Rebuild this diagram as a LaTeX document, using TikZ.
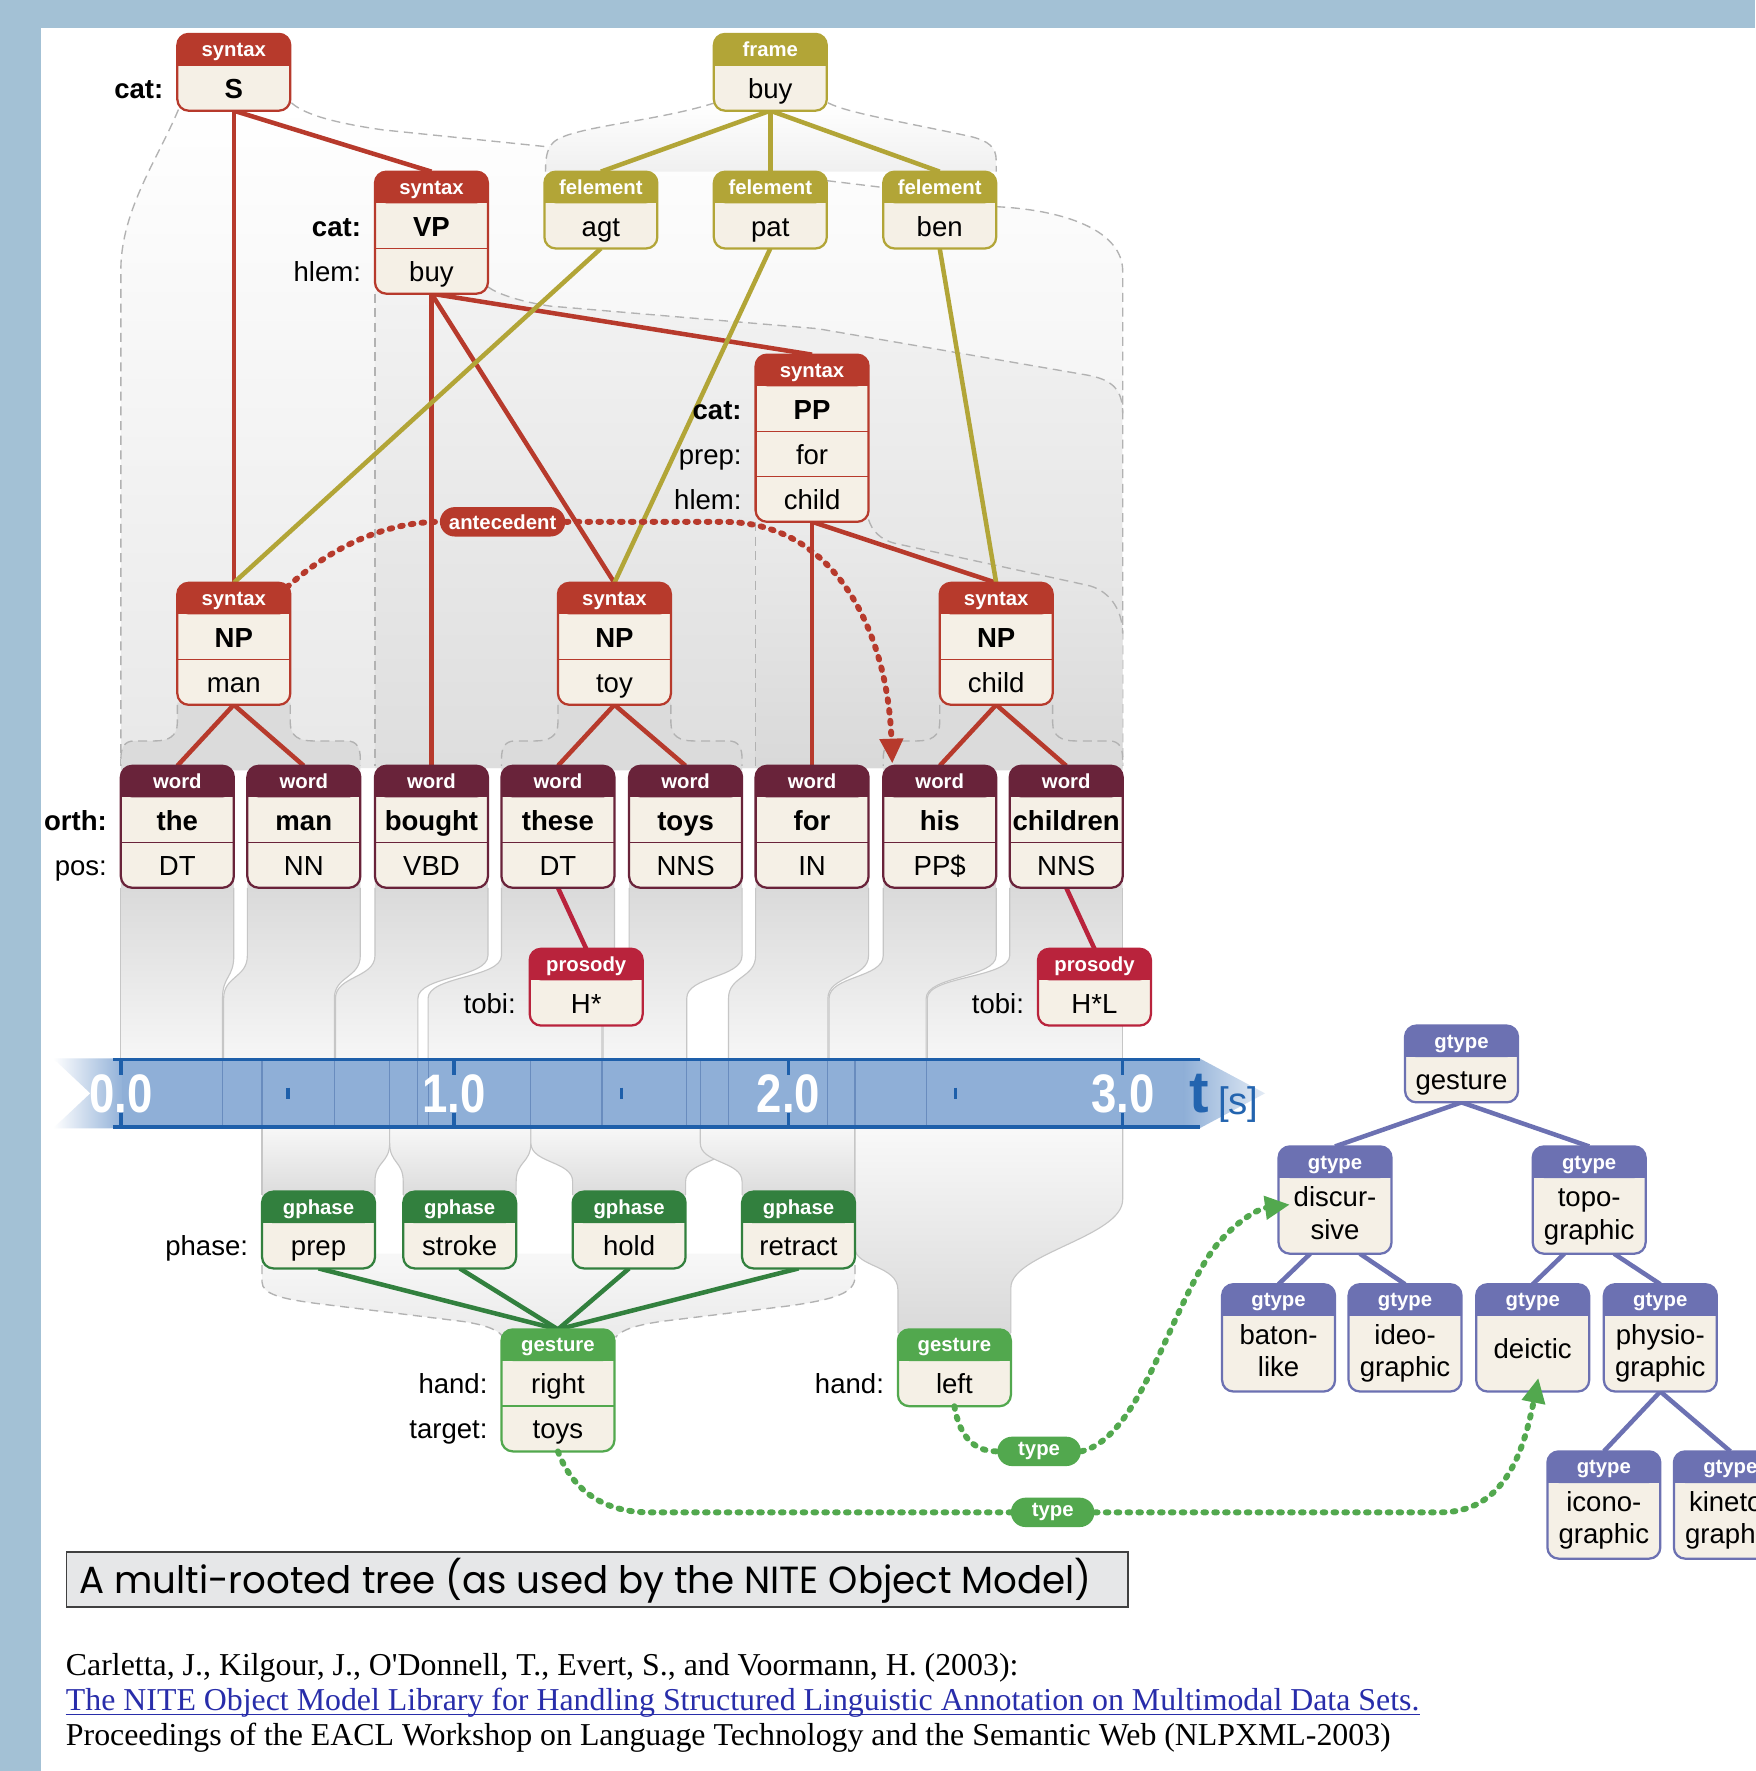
\documentclass[tikz,border=0pt]{standalone}
\usepackage{fontspec}
\setmainfont{Liberation Sans}
\newfontfamily\citefont{Liberation Serif}
\newfontfamily\titlefont{Poppins}
\usetikzlibrary{calc,arrows.meta}
\pgfdeclarelayer{bg}
\pgfdeclarelayer{edges}
\pgfsetlayers{bg,edges,main}
\definecolor{bandbg}{RGB}{163,193,213}
\definecolor{syncol}{RGB}{183,58,44}
\definecolor{frcol}{RGB}{178,165,55}
\definecolor{wordcol}{RGB}{105,35,58}
\definecolor{proscol}{RGB}{185,35,60}
\definecolor{phcol}{RGB}{50,128,62}
\definecolor{gescol}{RGB}{82,168,78}
\definecolor{gtcol}{RGB}{108,113,178}
\definecolor{cream}{RGB}{245,240,230}
\definecolor{tlfill}{RGB}{143,175,215}
\definecolor{tlline}{RGB}{30,95,170}
\definecolor{tlthin}{RGB}{105,140,190}
\definecolor{linkblue}{RGB}{40,45,170}
\definecolor{titlebg}{RGB}{230,231,232}
\definecolor{tcol}{RGB}{35,100,175}
\tikzset{
 bodyt/.style={font=\fontsize{12.2}{14}\selectfont, inner sep=0pt},
 boldt/.style={font=\fontsize{12.2}{14}\selectfont\bfseries, inner sep=0pt},
 hdrt/.style={font=\fontsize{9}{10}\selectfont\bfseries, text=white, inner sep=0pt},
 dsh/.style={draw=gray!60, dash pattern=on 4pt off 2.5pt, line width=0.6pt},
 colline/.style={draw=gray!45, line width=0.5pt},
 tedge/.style={line width=2pt},
 dotline/.style={line width=2.6pt, dash pattern=on 1.2pt off 3.6pt, line cap=round},
 pill/.style={rounded corners=6.5pt, minimum height=13pt, inner xsep=4pt, inner ysep=0pt, text=white, font=\fontsize{9}{10}\selectfont\bfseries},
 tip/.style={-{Triangle[length=11pt,width=10pt]}},
 citet/.style={anchor=base west, inner sep=0pt, font=\citefont\fontsize{14.1}{16}\selectfont},
}
\newcommand\abox[7]{%
  \pgfmathsetmacro\abh{28+#5*#6}%
  \node[inner sep=0pt, outer sep=0pt, minimum width=50pt, minimum height=\abh*0.5pt, anchor=north] (#1) at (#3,#4) {};
  \fill[cream, rounded corners=5pt] (#1.north west) rectangle (#1.south east);
  \fill[#2, rounded corners=5pt] (#1.north west) rectangle ($(#1.north east)+(0,28)$);
  \fill[#2] ($(#1.north west)+(0,12)$) rectangle ($(#1.north east)+(0,28)$);
  \draw[#2, line width=1pt, rounded corners=5pt] (#1.north west) rectangle (#1.south east);
  \ifnum#5>1 \foreach \k in {2,...,#5}{\draw[#2, line width=0.7pt] ($(#1.north west)+(0,{28+(\k-1)*#6})$) -- ($(#1.north east)+(0,{28+(\k-1)*#6})$);}\fi
  \node[hdrt, anchor=base] at ($(#1.north)+(0,20)$) {#7};
}
\newcommand\rowtxt[4][bodyt]{\node[#1, anchor=base] at ($(#2.north)+(0,{17+40*#3})$) {#4};}
\newcommand\rowlab[4][bodyt]{\node[#1, anchor=base east] at ($(#2.north west)+(-12,{17+40*#3})$) {#4};}
\newcommand\wcol[4]{%
 \shade[top color=gray!30, bottom color=gray!7] (#1,780) -- (#1,846) .. controls (#1,866) and (#3,864) .. (#3,884) -- (#3,937) -- (#4,937) -- (#4,884) .. controls (#4,864) and (#2,866) .. (#2,846) -- (#2,780) -- cycle;
 \draw[colline] (#1,786) -- (#1,846) .. controls (#1,866) and (#3,864) .. (#3,884) -- (#3,937);
 \draw[colline] (#2,786) -- (#2,846) .. controls (#2,866) and (#4,864) .. (#4,884) -- (#4,937);
}
\newcommand\gcol[4]{%
 \shade[top color=gray!6, bottom color=gray!30] (#1,998) -- (#1,1012) .. controls (#1,1030) and (#3,1028) .. (#3,1046) -- (#3,1065) -- (#4,1065) -- (#4,1046) .. controls (#4,1028) and (#2,1030) .. (#2,1012) -- (#2,998) -- cycle;
 \draw[colline] (#1,998) -- (#1,1012) .. controls (#1,1030) and (#3,1028) .. (#3,1046) -- (#3,1058);
 \draw[colline] (#2,998) -- (#2,1012) .. controls (#2,1030) and (#4,1028) .. (#4,1046) -- (#4,1058);
}
\newcommand\npreg[4]{%
 \fill[gray!28] (#1,622) -- (#1,640) .. controls (#1,652) and ({#1-8},656) .. ({#1-20},656) -- ({#3+12},656) .. controls ({#3+3},656) and (#3,662) .. (#3,672) -- (#3,682) -- (#4,682) -- (#4,672) .. controls (#4,662) and ({#4-3},656) .. ({#4-12},656) -- ({#2+20},656) .. controls ({#2+8},656) and (#2,652) .. (#2,640) -- (#2,622) -- cycle;
 \draw[dsh] (#1,624) -- (#1,640) .. controls (#1,652) and ({#1-8},656) .. ({#1-20},656) -- ({#3+12},656) .. controls ({#3+3},656) and (#3,662) .. (#3,672) -- (#3,678);
 \draw[dsh] (#2,624) -- (#2,640) .. controls (#2,652) and ({#2+8},656) .. ({#2+20},656) -- ({#4-12},656) .. controls ({#4-3},656) and (#4,662) .. (#4,672) -- (#4,678);
}
\begin{document}
\begin{tikzpicture}[x=0.5pt,y=-0.5pt]
\useasboundingbox (0,0) rectangle (1554,1568);
\begin{pgfonlayer}{bg}
\fill[white] (0,0) rectangle (1554,1568);
\fill[bandbg] (0,0) rectangle (1554,25);
\fill[bandbg] (0,0) rectangle (36,1568);

% ---------- span regions (upper) ----------
\shade[top color=white, bottom color=gray!18] (158,97) .. controls (140,140) and (108,185) .. (107,237) -- (107,680) -- (994,680) -- (994,240) .. controls (994,205) and (945,186) .. (882,183) -- (782,166) -- (485,130) -- (339,115) .. controls (290,108) and (268,100) .. (258,91) -- cycle;
\draw[dsh] (158,97) .. controls (140,140) and (108,185) .. (107,237) -- (107,678);
\draw[dsh] (258,91) .. controls (268,100) and (290,108) .. (339,115) -- (485,130) -- (782,166);
\draw[dsh] (882,183) .. controls (945,186) and (994,205) .. (994,240) -- (994,678);
\shade[top color=white, bottom color=gray!12] (633,91) .. controls (580,108) and (505,112) .. (490,126) .. controls (484,132) and (483,140) .. (483,152) -- (882,152) -- (882,142) .. controls (882,130) and (875,125) .. (860,121) .. controls (800,108) and (750,100) .. (733,91) -- cycle;
\draw[dsh] (633,91) .. controls (580,108) and (505,112) .. (490,126) .. controls (484,132) and (483,140) .. (483,152);
\draw[dsh] (733,91) .. controls (750,100) and (800,108) .. (860,121) .. controls (875,125) and (882,130) .. (882,142) -- (882,152);
\shade[top color=gray!10, bottom color=gray!26] (332,258) -- (332,680) -- (994,680) -- (994,366) .. controls (994,345) and (985,336) .. (962,332) -- (724,291) -- (487,271) .. controls (460,267) and (440,260) .. (432,254) -- cycle;
\draw[dsh] (332,260) -- (332,678);
\draw[dsh] (432,254) .. controls (440,260) and (460,267) .. (487,271) -- (724,291) -- (962,332) .. controls (985,336) and (994,345) .. (994,366);
\shade[top color=gray!16, bottom color=gray!30] (669,460) -- (669,680) -- (994,680) -- (994,561) .. controls (994,540) and (982,522) .. (962,518) -- (792,481) .. controls (780,478) and (772,470) .. (769,460) -- cycle;
\draw[dsh] (669,462) -- (669,678);
\draw[dsh] (769,460) .. controls (772,470) and (780,478) .. (792,481) -- (962,518) .. controls (982,522) and (994,540) .. (994,561);
\npreg{157}{257}{107}{319}
\npreg{494}{594}{444}{657}
\npreg{832}{932}{782}{994}

% ---------- word columns to timeline ----------
\wcol{107}{207}{107}{197}
\wcol{219}{319}{198}{296}
\wcol{332}{432}{297}{370}
\wcol{444}{544}{379}{533}
\wcol{557}{657}{534}{608}
\wcol{669}{769}{645}{733}
\wcol{782}{882}{734}{820}
\wcol{894}{994}{821}{994}

% ---------- below timeline ----------
\shade[top color=gray!6, bottom color=gray!16] (232,1110) -- (232,1135) .. controls (232,1146) and (250,1150) .. (280,1154) -- (410,1170) .. controls (430,1173) and (443,1178) .. (445,1184) -- (545,1184) .. controls (550,1177) and (565,1173) .. (585,1170) -- (700,1156) .. controls (740,1150) and (757,1145) .. (757,1130) -- (757,1110) -- cycle;
\draw[dsh] (232,1120) -- (232,1135) .. controls (232,1146) and (250,1150) .. (280,1154) -- (410,1170) .. controls (430,1173) and (443,1178) .. (445,1184);
\draw[dsh] (757,1120) -- (757,1130) .. controls (757,1145) and (740,1150) .. (700,1156) -- (585,1170) .. controls (565,1173) and (550,1177) .. (545,1184);
\gcol{232}{345}{232}{332}
\gcol{345}{470}{357}{457}
\gcol{470}{645}{507}{607}
\gcol{620}{757}{657}{757}
\shade[top color=gray!5, bottom color=gray!30] (757,998) -- (757,1105) .. controls (757,1122) and (795,1120) .. (795,1142) -- (795,1185) -- (895,1185) -- (895,1140) .. controls (895,1110) and (994,1095) .. (994,1062) -- (994,998) -- cycle;
\draw[colline] (757,998) -- (757,1105) .. controls (757,1122) and (795,1120) .. (795,1142) -- (795,1180);
\draw[colline] (994,998) -- (994,1062) .. controls (994,1095) and (895,1110) .. (895,1140) -- (895,1180);

% ---------- timeline ----------
\shade[left color=white, right color=tlfill] (47,937) -- (110,937) -- (110,999) -- (47,999) -- (80,968) -- cycle;
\fill[tlfill] (108,937) rectangle (1050,999);
\shade[left color=tlfill, right color=tlfill!25] (1048,937) -- (1062,937) -- (1120,968) -- (1062,999) -- (1048,999) -- cycle;
\foreach \x in {197,232,296,345,370,379,470,533,608,620,645,733,757,820} \draw[tlthin, line width=0.5pt] (\x,939) -- (\x,997);
\draw[tlline, line width=1.6pt] (100,938) -- (1062,938);
\draw[tlline, line width=1.6pt] (100,998) -- (1062,998);
\foreach \x in {107,402,698,994} {\draw[tlline, line width=1.5pt] (\x,937) -- (\x,952); \draw[tlline, line width=1.5pt] (\x,985) -- (\x,999);}
\foreach \x in {255,550,846} \draw[tlline, line width=1.5pt] (\x,963) -- (\x,973);
\foreach \x/\t in {107/0.0,402/1.0,698/2.0,994/3.0} {
  \node[anchor=base, inner sep=0pt, text=white, font=\fontsize{24}{26}\selectfont\bfseries] at (\x,985) {\scalebox{0.84}[1]{\t}};
}
\node[anchor=base, inner sep=0pt, text=tcol, font=\fontsize{26}{28}\selectfont\bfseries] (tlab) at (1062,985) {t};
\node[anchor=base west, inner sep=0pt, text=tcol, font=\fontsize{17}{19}\selectfont] (slab) at (1078,987) {[s]};
\end{pgfonlayer}

% ---------- boxes (nodes) ----------
\abox{S}{syncol}{207}{30}{1}{40}{syntax}
\abox{frame}{frcol}{682}{30}{1}{40}{frame}
\abox{VP}{syncol}{382}{152}{2}{40}{syntax}
\abox{agt}{frcol}{532}{152}{1}{40}{felement}
\abox{pat}{frcol}{682}{152}{1}{40}{felement}
\abox{ben}{frcol}{832}{152}{1}{40}{felement}
\abox{PP}{syncol}{719}{314}{3}{40}{syntax}
\abox{npman}{syncol}{207}{516}{2}{40}{syntax}
\abox{nptoy}{syncol}{544}{516}{2}{40}{syntax}
\abox{npchild}{syncol}{882}{516}{2}{40}{syntax}
\abox{w1}{wordcol}{157}{678}{2}{40}{word}
\abox{w2}{wordcol}{269}{678}{2}{40}{word}
\abox{w3}{wordcol}{382}{678}{2}{40}{word}
\abox{w4}{wordcol}{494}{678}{2}{40}{word}
\abox{w5}{wordcol}{607}{678}{2}{40}{word}
\abox{w6}{wordcol}{719}{678}{2}{40}{word}
\abox{w7}{wordcol}{832}{678}{2}{40}{word}
\abox{w8}{wordcol}{944}{678}{2}{40}{word}
\abox{pr1}{proscol}{519}{840}{1}{40}{prosody}
\abox{pr2}{proscol}{969}{840}{1}{40}{prosody}
\abox{ph1}{phcol}{282}{1055}{1}{40}{gphase}
\abox{ph2}{phcol}{407}{1055}{1}{40}{gphase}
\abox{ph3}{phcol}{557}{1055}{1}{40}{gphase}
\abox{ph4}{phcol}{707}{1055}{1}{40}{gphase}
\abox{gr}{gescol}{494}{1177}{2}{40}{gesture}
\abox{gl}{gescol}{845}{1177}{1}{40}{gesture}
\abox{gt0}{gtcol}{1294}{908}{1}{40}{gtype}
\abox{gdisc}{gtcol}{1182}{1015}{1}{67}{gtype}
\abox{gtopo}{gtcol}{1407}{1015}{1}{67}{gtype}
\abox{gbaton}{gtcol}{1132}{1137}{1}{67}{gtype}
\abox{gideo}{gtcol}{1244}{1137}{1}{67}{gtype}
\abox{gdeic}{gtcol}{1357}{1137}{1}{67}{gtype}
\abox{gphys}{gtcol}{1470}{1137}{1}{67}{gtype}
\abox{gicon}{gtcol}{1420}{1285}{1}{67}{gtype}
\abox{gkin}{gtcol}{1532}{1285}{1}{67}{gtype}

% ---------- tree connectors ----------
\begin{pgfonlayer}{edges}
\begin{scope}[tedge]
\draw[syncol] (S.south) -- (VP.north);
\draw[syncol] (S.south) -- (npman.north);
\draw[syncol] (VP.south) -- (w3.north);
\draw[syncol] (VP.south) -- (nptoy.north);
\draw[syncol] (VP.south) -- (PP.north);
\draw[syncol] (PP.south) -- (w6.north);
\draw[syncol] (PP.south) -- (npchild.north);
\draw[syncol] (npman.south) -- (w1.north);
\draw[syncol] (npman.south) -- (w2.north);
\draw[syncol] (nptoy.south) -- (w4.north);
\draw[syncol] (nptoy.south) -- (w5.north);
\draw[syncol] (npchild.south) -- (w7.north);
\draw[syncol] (npchild.south) -- (w8.north);
\draw[frcol] (frame.south) -- (agt.north);
\draw[frcol] (frame.south) -- (pat.north);
\draw[frcol] (frame.south) -- (ben.north);
\draw[frcol] (agt.south) -- (npman.north);
\draw[frcol] (pat.south) -- (nptoy.north);
\draw[frcol] (ben.south) -- (npchild.north);
\draw[proscol] (w4.south) -- (pr1.north);
\draw[proscol] (w8.south) -- (pr2.north);
\draw[phcol] (ph1.south) -- (gr.north);
\draw[phcol] (ph2.south) -- (gr.north);
\draw[phcol] (ph3.south) -- (gr.north);
\draw[phcol] (ph4.south) -- (gr.north);
\draw[gtcol] (gt0.south) -- (gdisc.north);
\draw[gtcol] (gt0.south) -- (gtopo.north);
\draw[gtcol] ($(gdisc.south)+(-22,0)$) -- (gbaton.north);
\draw[gtcol] ($(gdisc.south)+(22,0)$) -- (gideo.north);
\draw[gtcol] ($(gtopo.south)+(-22,0)$) -- (gdeic.north);
\draw[gtcol] ($(gtopo.south)+(22,0)$) -- (gphys.north);
\draw[gtcol] (gphys.south) -- (gicon.north);
\draw[gtcol] (gphys.south) -- (gkin.north);
\end{scope}
\end{pgfonlayer}

% ---------- texts ----------
\rowtxt[boldt]{S}{1}{S}\rowlab[boldt]{S}{1}{cat:}
\rowtxt{frame}{1}{buy}
\rowtxt[boldt]{VP}{1}{VP}\rowlab[boldt]{VP}{1}{cat:}
\rowtxt{VP}{2}{buy}\rowlab{VP}{2}{hlem:}
\rowtxt{agt}{1}{agt}\rowtxt{pat}{1}{pat}\rowtxt{ben}{1}{ben}
\rowtxt[boldt]{PP}{1}{PP}\rowlab[boldt]{PP}{1}{cat:}
\rowtxt{PP}{2}{for}\rowlab{PP}{2}{prep:}
\rowtxt{PP}{3}{child}\rowlab{PP}{3}{hlem:}
\rowtxt[boldt]{npman}{1}{NP}\rowtxt{npman}{2}{man}
\rowtxt[boldt]{nptoy}{1}{NP}\rowtxt{nptoy}{2}{toy}
\rowtxt[boldt]{npchild}{1}{NP}\rowtxt{npchild}{2}{child}
\rowlab[boldt]{w1}{1}{orth:}\rowlab{w1}{2}{pos:}
\rowtxt[boldt]{w1}{1}{the}\rowtxt{w1}{2}{DT}
\rowtxt[boldt]{w2}{1}{man}\rowtxt{w2}{2}{NN}
\rowtxt[boldt]{w3}{1}{bought}\rowtxt{w3}{2}{VBD}
\rowtxt[boldt]{w4}{1}{these}\rowtxt{w4}{2}{DT}
\rowtxt[boldt]{w5}{1}{toys}\rowtxt{w5}{2}{NNS}
\rowtxt[boldt]{w6}{1}{for}\rowtxt{w6}{2}{IN}
\rowtxt[boldt]{w7}{1}{his}\rowtxt{w7}{2}{PP\$}
\rowtxt[boldt]{w8}{1}{children}\rowtxt{w8}{2}{NNS}
\rowtxt{pr1}{1}{H*}\rowlab{pr1}{1}{tobi:}
\rowtxt{pr2}{1}{H*L}\rowlab{pr2}{1}{tobi:}
\rowtxt{ph1}{1}{prep}\rowlab{ph1}{1}{phase:}
\rowtxt{ph2}{1}{stroke}\rowtxt{ph3}{1}{hold}\rowtxt{ph4}{1}{retract}
\rowtxt{gr}{1}{right}\rowlab{gr}{1}{hand:}
\rowtxt{gr}{2}{toys}\rowlab{gr}{2}{target:}
\rowtxt{gl}{1}{left}\rowlab{gl}{1}{hand:}
\rowtxt{gt0}{1}{gesture}
\node[bodyt, anchor=base] at ($(gdisc.north)+(0,53)$) {discur-};
\node[bodyt, anchor=base] at ($(gdisc.north)+(0,82)$) {sive};
\node[bodyt, anchor=base] at ($(gtopo.north)+(0,53)$) {topo-};
\node[bodyt, anchor=base] at ($(gtopo.north)+(0,82)$) {graphic};
\node[bodyt, anchor=base] at ($(gbaton.north)+(0,53)$) {baton-};
\node[bodyt, anchor=base] at ($(gbaton.north)+(0,82)$) {like};
\node[bodyt, anchor=base] at ($(gideo.north)+(0,53)$) {ideo-};
\node[bodyt, anchor=base] at ($(gideo.north)+(0,82)$) {graphic};
\node[bodyt, anchor=base] at ($(gdeic.north)+(0,66)$) {deictic};
\node[bodyt, anchor=base] at ($(gphys.north)+(0,53)$) {physio-};
\node[bodyt, anchor=base] at ($(gphys.north)+(0,82)$) {graphic};
\node[bodyt, anchor=base] at ($(gicon.north)+(0,53)$) {icono-};
\node[bodyt, anchor=base] at ($(gicon.north)+(0,82)$) {graphic};
\node[bodyt, anchor=base] at ($(gkin.north)+(0,53)$) {kineto-};
\node[bodyt, anchor=base] at ($(gkin.north)+(0,82)$) {graphic};

% ---------- dotted relations ----------
\node[pill, fill=syncol, minimum width=50pt] (antec) at (445,462) {antecedent};
\node[pill, fill=gescol, minimum width=37pt] (type1) at (920,1285) {type};
\node[pill, fill=gescol, minimum width=37pt] (type2) at (932,1339) {type};
\draw[dotline, draw=syncol] ($(npman.north east)+(-3,4)$) .. controls (300,478) and (350,462) .. (antec.west);
\draw[dotline, draw=syncol, tip] (antec.east) -- (640,462) .. controls (740,462) and (786,560) .. ($(w7.north)+(-42,-2)$);
\draw[dotline, draw=gescol] (gl.south) .. controls (850,1275) and (865,1285) .. (type1.west);
\draw[dotline, draw=gescol, tip] (type1.east) .. controls (1010,1272) and (1035,1160) .. (1075,1105) .. controls (1095,1080) and (1115,1070) .. ($(gdisc.west)+(10,4)$);
\draw[dotline, draw=gescol] (gr.south) .. controls (505,1315) and (530,1339) .. (575,1339) -- (type2.west);
\draw[dotline, draw=gescol, tip] (type2.east) -- (1275,1339) .. controls (1330,1339) and (1348,1290) .. ($(gdeic.south)+(5,-12)$);

% ---------- title and reference ----------
\node[draw=black!75, line width=0.8pt, fill=titlebg, minimum width=470pt, minimum height=24.5pt, inner sep=0pt, anchor=north west] (title) at (58,1373) {};
\node[anchor=west, inner sep=0pt] (titletext) at ($(title.west)+(12,1)$) {\resizebox*{448pt}{20pt}{\titlefont A multi-rooted tree (as used by the NITE Object Model)}};
\node[citet] (cit1) at (58,1483) {Carletta, J., Kilgour, J., O'Donnell, T., Evert, S., and Voormann, H. (2003):};
\node[citet, text=linkblue] (cit2) at (58,1514) {The NITE Object Model Library for Handling Structured Linguistic Annotation on Multimodal Data Sets.};
\draw[linkblue, line width=0.6pt] ($(cit2.base west)+(0,4)$) -- ($(cit2.base east)+(0,4)$);
\node[citet] (cit3) at (58,1545) {Proceedings of the EACL Workshop on Language Technology and the Semantic Web (NLPXML-2003)};
\end{tikzpicture}
\end{document}
